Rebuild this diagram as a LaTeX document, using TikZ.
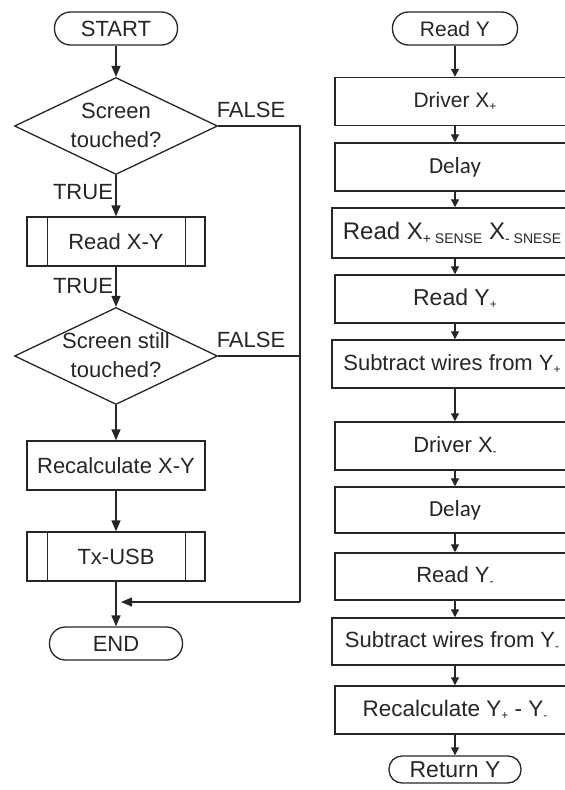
\documentclass[tikz,border=0pt]{standalone}
\usepackage{fontspec}
\setmainfont{Liberation Sans}
\newfontfamily\delayfont{Carlito}
\usetikzlibrary{shapes.geometric,arrows.meta,calc}
\newcommand\mysub[1]{\raisebox{-3pt}{\fontsize{12}{12}\selectfont #1}}
\newcommand\mybigsub[1]{\raisebox{-3.5pt}{\fontsize{14}{14}\selectfont #1}}
\newcommand\dectext[1]{\smash{\makebox[0pt]{\raisebox{-6pt}{\begin{tabular}{@{}c@{}}#1\end{tabular}}}}}
\definecolor{linec}{gray}{0.15}
\definecolor{textc}{gray}{0.15}
\begin{document}
\begin{tikzpicture}[x=1pt,y=-1pt,
  base/.style={draw=linec, line width=1.3pt, text=textc, inner sep=0pt},
  term/.style={base, rectangle, rounded corners=16pt, minimum width=123pt, minimum height=33pt, font=\fontsize{22}{26}\selectfont},
  proc/.style={base, rectangle, minimum width=178pt, minimum height=49pt, font=\fontsize{22}{26}\selectfont},
  dec/.style={base, diamond, aspect=2, minimum width=203pt, minimum height=97pt, font=\fontsize{22}{29}\selectfont},
  rbox/.style={base, rectangle, line width=1.5pt, minimum width=240pt, minimum height=48pt, font=\fontsize{21}{25}\selectfont},
  lbl/.style={text=textc, inner sep=0pt, font=\fontsize{22}{26}\selectfont},
  arr/.style={draw=linec, line width=1.3pt, -{Triangle[length=11pt,width=9pt]}},
  rarr/.style={draw=linec, line width=1.3pt, -{Triangle[length=8pt,width=8pt]}},
  wire/.style={draw=linec, line width=1.3pt}
]
\useasboundingbox (0,0) rectangle (565,790);
\fill[white] (0,0) rectangle (565,790);
\clip (0,0) rectangle (565,790);

% ---------- left column ----------
\node[term] (start) at (116,28.5) {START};
\node[dec] (d1) at (116,126) {\dectext{Screen\\touched?}};
\node[lbl] (f1) at (251,110) {FALSE};
\node[lbl] (t1) at (83,192) {TRUE};
\node[proc] (rxy) at (116,241.5) {Read X-Y};
\draw[wire] ([xshift=21pt]rxy.north west) -- ([xshift=21pt]rxy.south west);
\draw[wire] ([xshift=-20pt]rxy.north east) -- ([xshift=-20pt]rxy.south east);
\node[lbl] (t2) at (83,286) {TRUE};
\node[dec] (d2) at (116,356) {\dectext{Screen still\\touched?}};
\node[lbl] (f2) at (251,340) {FALSE};
\node[proc] (rc) at (116,465.5) {Recalculate X-Y};
\node[proc] (tx) at (116,556.5) {Tx-USB};
\draw[wire] ([xshift=21pt]tx.north west) -- ([xshift=21pt]tx.south west);
\draw[wire] ([xshift=-20pt]tx.north east) -- ([xshift=-20pt]tx.south east);
\node[term, minimum width=133pt] (stop) at (116,643.5) {END};

\coordinate (jr) at (300,602);
\coordinate (jm) at (121,602);

\draw[arr] (start) -- (d1);
\draw[arr] (d1) -- (rxy);
\draw[arr] (rxy) -- (d2);
\draw[arr] (d2) -- (rc);
\draw[arr] (rc) -- (tx);
\draw[arr] (tx) -- (stop);
\draw[wire] (d1.east) -| (jr);
\draw[wire] (d2.east) -- (d2.east -| jr);
\draw[arr] (jr) -- (jm);

% ---------- right column ----------
\node[term, minimum width=125pt, font=\fontsize{21}{25}\selectfont] (ry) at (455,28.5) {Read Y};
\node[rbox] (b1) at (455,101.5) {Driver X\mysub{+}};
\node[rbox, font=\delayfont\fontsize{23}{26}\selectfont] (b2) at (455,167) {Delay};
\node[rbox, minimum height=50pt, font=\fontsize{24}{28}\selectfont] (b3) at (452,233) {Read X\mybigsub{+ SENSE} X\mybigsub{- SNESE}};
\node[rbox, font=\fontsize{23}{27}\selectfont] (b4) at (455,299) {Read Y\mysub{+}};
\node[rbox, font=\fontsize{22}{26}\selectfont] (b5) at (452,364) {Subtract wires from Y\mysub{+}};
\node[rbox, font=\fontsize{22}{26}\selectfont] (b6) at (455,446) {Driver X\mysub{-}};
\node[rbox, minimum height=46pt, font=\delayfont\fontsize{23}{26}\selectfont] (b7) at (455,510) {Delay};
\node[rbox, minimum height=47pt, font=\fontsize{22}{26}\selectfont] (b8) at (455,576.5) {Read Y\mysub{-}};
\node[rbox, minimum height=47pt, font=\fontsize{22}{26}\selectfont] (b9) at (452,641.5) {Subtract wires from Y\mysub{-}};
\node[rbox, font=\fontsize{22.5}{26}\selectfont] (b10) at (455,710) {Recalculate Y\mysub{+} - Y\mysub{-}};
\node[term, minimum width=132pt, minimum height=27pt, rounded corners=13pt, font=\fontsize{23}{26}\selectfont] (ret) at (455,769.5) {Return Y};

\draw[rarr] (ry) -- (ry |- b1.north);
\draw[rarr] (b1) -- (b1 |- b2.north);
\draw[rarr] (b2) -- (b2 |- b3.north);
\draw[rarr] (b3.south -| b2) -- (b2 |- b4.north);
\draw[rarr] (b4) -- (b4 |- b5.north);
\draw[rarr] (b5.south -| b4) -- (b4 |- b6.north);
\draw[rarr] (b6) -- (b6 |- b7.north);
\draw[rarr] (b7) -- (b7 |- b8.north);
\draw[rarr] (b8) -- (b8 |- b9.north);
\draw[rarr] (b9.south -| b8) -- (b8 |- b10.north);
\draw[rarr] (b10) -- (ret);
\end{tikzpicture}
\end{document}
